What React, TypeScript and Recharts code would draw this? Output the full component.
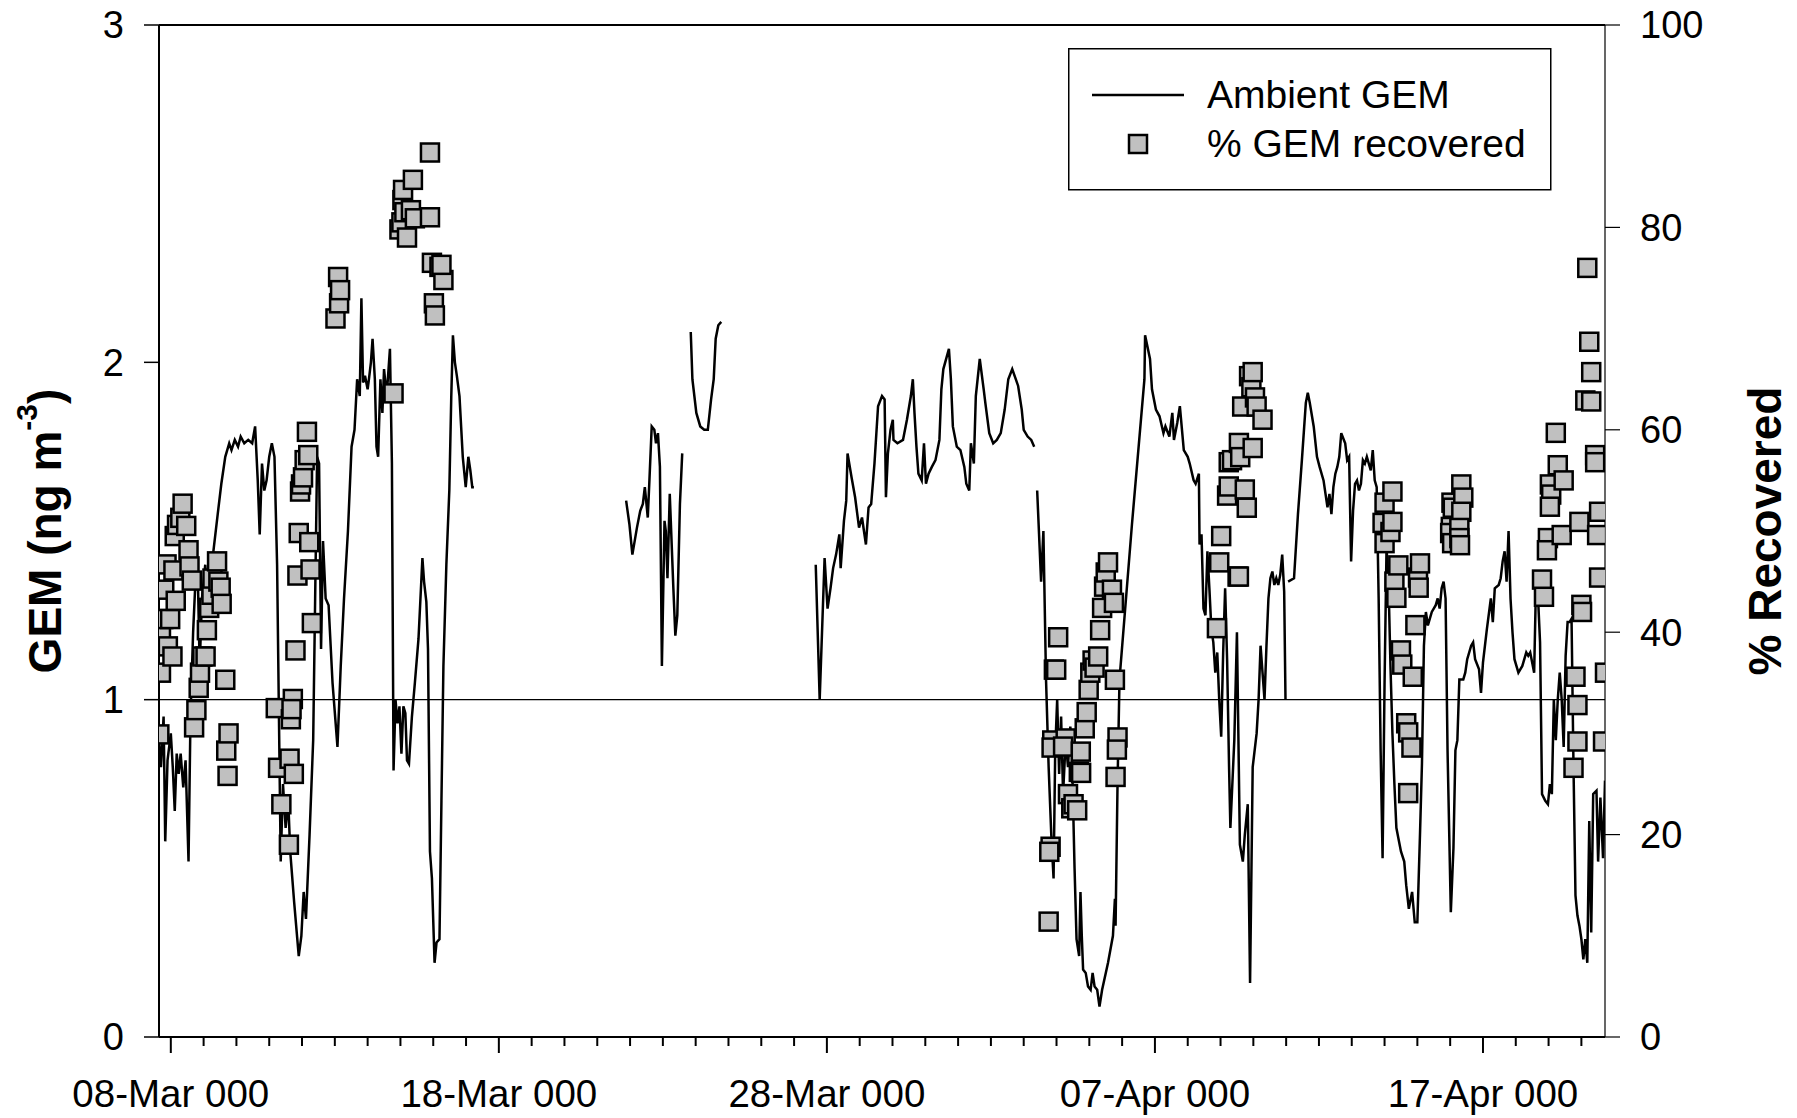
import React from 'react';
import {
  ComposedChart,
  Line,
  Scatter,
  XAxis,
  YAxis,
  ReferenceLine,
  Legend,
  Label,
} from 'recharts';

const FONT = '"Liberation Sans", Arial, Helvetica, sans-serif';

// Ambient GEM (ng m-3); time = days since 08-Mar 00:00; null marks a gap in the record
const gemDays: number[] = [
  -0.36, -0.3, -0.22, -0.17, -0.1, 0.0, 0.06, 0.12, 0.18, 0.24, 0.3, 0.38, 0.45, 0.54, 0.6, 0.68, 0.75, 0.82, 0.88, 0.95,
  1.05, 1.13, 1.25, 1.31, 1.43, 1.54, 1.66, 1.78, 1.85, 1.95, 2.05, 2.13, 2.24, 2.36, 2.48, 2.57, 2.65, 2.71, 2.78, 2.85,
  2.92, 3.0, 3.08, 3.16, 3.24, 3.35, 3.42, 3.5, 3.58, 3.64, 3.76, 3.9, 3.98, 4.05, 4.12, 4.23, 4.34, 4.4, 4.46, 4.52,
  4.58, 4.64, 4.72, 4.81, 4.93, 5.08, 5.18, 5.28, 5.4, 5.51, 5.6, 5.68, 5.76, 5.81, 5.86, 5.92, 6.0, 6.04, 6.1, 6.15,
  6.22, 6.27, 6.32, 6.39, 6.45, 6.5, 6.58, 6.68, 6.74, 6.79, 6.85, 6.91, 6.97, 7.03, 7.09, 7.15, 7.2, 7.26, 7.35, 7.44,
  7.55, 7.61, 7.67, 7.72, 7.79, 7.84, 7.9, 7.96, 8.04, 8.1, 8.19, 8.25, 8.31, 8.4, 8.49, 8.55, 8.6, 8.66, 8.72, 8.8,
  8.9, 8.99, 9.07, 9.13, 9.19, 9.24, 11.0,
  13.88, 13.98, 14.07, 14.21, 14.31, 14.39, 14.45, 14.54, 14.59, 14.66, 14.74, 14.79, 14.85, 14.91, 14.97, 15.05, 15.09,
  15.14, 15.21, 15.32, 15.38, 15.44, 15.52, 15.59, 15.7,
  15.85, 15.9, 16.02, 16.14, 16.26, 16.37, 16.47, 16.55, 16.61, 16.69, 16.78, 18.0,
  19.66, 19.78, 19.93, 20.02, 20.11, 20.19, 20.28, 20.38, 20.42, 20.52, 20.59, 20.63, 20.75, 20.86, 20.98, 21.07, 21.19,
  21.27, 21.35, 21.45, 21.56, 21.68, 21.76, 21.8, 21.86, 21.94, 22.01, 22.03, 22.15, 22.32, 22.44, 22.56, 22.62, 22.67,
  22.73, 22.79, 22.89, 22.96, 23.02, 23.1, 23.2, 23.31, 23.43, 23.49, 23.55, 23.72, 23.78, 23.84, 23.96, 24.07, 24.19,
  24.25, 24.34, 24.39, 24.48, 24.54, 24.66, 24.78, 24.83, 24.95, 25.07, 25.18, 25.3, 25.42, 25.53, 25.65, 25.83, 25.94,
  26.0, 26.12, 26.23, 26.32, 26.36,
  26.41, 26.53, 26.6, 26.68, 26.76, 26.84, 26.91, 26.96, 27.02, 27.08, 27.14, 27.2, 27.28, 27.35, 27.42, 27.46, 27.55,
  27.61, 27.69, 27.73, 27.77, 27.81, 27.89, 27.96, 28.04, 28.1, 28.16, 28.24, 28.31, 28.39, 28.57, 28.72, 28.78, 28.8,
  28.86, 28.92, 29.3, 29.68, 29.7, 29.85, 29.91, 30.03, 30.14, 30.26, 30.32, 30.44, 30.53, 30.58, 30.68, 30.76, 30.88,
  31.0, 31.06, 31.18, 31.24, 31.34, 31.36, 31.42, 31.48, 31.54, 31.6, 31.66, 31.72, 31.78, 31.84, 31.9, 31.96, 32.02,
  32.08, 32.14, 32.2, 32.26, 32.3, 32.42, 32.5, 32.59, 32.68, 32.74, 32.83, 32.9, 32.98, 33.1, 33.16, 33.22, 33.28,
  33.34, 33.4, 33.46, 33.52, 33.58, 33.64, 33.7, 33.76, 33.82, 33.88, 33.94, 33.98, 34.02,
  34.06, 34.24, 34.36, 34.48, 34.6, 34.66, 34.72, 34.84, 34.94, 35.02, 35.14, 35.2, 35.26, 35.32, 35.38, 35.44, 35.5,
  35.56, 35.62, 35.68, 35.8, 35.86, 35.92, 35.98, 36.04, 36.1, 36.16, 36.22, 36.28, 36.34, 36.4, 36.46, 36.52, 36.58,
  36.64, 36.7, 36.76, 36.82, 36.88, 36.94, 37.0, 37.06, 37.12, 37.18, 37.24, 37.3, 37.36, 37.42, 37.5, 37.6, 37.66,
  37.74, 37.84, 37.92, 38.0, 38.08, 38.14, 38.2, 38.26, 38.32, 38.44, 38.56, 38.62, 38.68, 38.74, 38.8, 38.86, 38.92,
  39.02, 39.1, 39.16, 39.22, 39.28, 39.4, 39.46, 39.52, 39.64, 39.7, 39.76, 39.88, 39.94, 40.0, 40.12, 40.24, 40.3,
  40.36, 40.48, 40.54, 40.6, 40.66, 40.72, 40.78, 40.84, 40.9, 40.96, 41.08, 41.2, 41.32, 41.38, 41.44, 41.5, 41.56,
  41.62, 41.68, 41.74, 41.8, 41.9, 41.98, 42.04, 42.1, 42.16, 42.22, 42.28, 42.34, 42.4, 42.46, 42.52, 42.58, 42.64,
  42.7, 42.76, 42.82, 42.88, 42.94, 43.0, 43.06, 43.12, 43.18, 43.24, 43.3, 43.36, 43.46, 43.51, 43.58, 43.66, 43.72,
];

const gemValues: (number | null)[] = [
  0.88, 0.8, 0.95, 0.58, 0.82, 0.9, 0.8, 0.67, 0.84, 0.78, 0.84, 0.74, 0.82, 0.52, 0.95, 1.2, 1.35, 1.38, 1.1, 1.3,
  1.4, 1.3, 1.4, 1.45, 1.55, 1.64, 1.72, 1.76, 1.74, 1.77, 1.75, 1.78, 1.76, 1.77, 1.76, 1.81, 1.65, 1.49, 1.7, 1.62,
  1.65, 1.72, 1.76, 1.72, 1.4, 0.52, 0.75, 0.62, 0.7, 0.55, 0.4, 0.24, 0.3, 0.43, 0.35, 0.6, 0.88, 1.3, 1.72, 1.7,
  1.15, 1.47, 1.3, 1.28, 1.05, 0.86, 1.1, 1.3, 1.5, 1.75, 1.8, 1.95, 1.9, 2.19, 1.94, 1.96, 1.92, 1.95, 2.0, 2.07,
  1.95, 1.75, 1.72, 1.95, 1.85, 1.98, 1.9, 2.04, 1.7, 0.79, 1.0, 0.93, 0.98, 0.84, 0.98, 0.96, 0.82, 0.81, 0.95, 1.05,
  1.18, 1.3, 1.42, 1.35, 1.29, 1.15, 0.55, 0.47, 0.22, 0.28, 0.29, 0.7, 1.1, 1.4, 1.62, 1.9, 2.08, 2.0, 1.96, 1.9,
  1.72, 1.63, 1.72, 1.68, 1.63, 1.63, null,
  1.59, 1.52, 1.43, 1.51, 1.56, 1.58, 1.63, 1.54, 1.65, 1.81, 1.8, 1.76, 1.79, 1.69, 1.1, 1.53, 1.5,
  1.36, 1.61, 1.33, 1.19, 1.25, 1.58, 1.73, null,
  2.09, 1.95, 1.85, 1.81, 1.8, 1.8, 1.89, 1.95, 2.07, 2.11, 2.12, null,
  1.4, 1.0, 1.42, 1.27, 1.33, 1.39, 1.43, 1.49, 1.39, 1.53, 1.59, 1.73, 1.66, 1.6, 1.51, 1.54, 1.46,
  1.57, 1.58, 1.7, 1.87, 1.9, 1.89, 1.6, 1.73, 1.8, 1.83, 1.77, 1.76, 1.77, 1.83, 1.9, 1.95, 1.85,
  1.75, 1.67, 1.65, 1.76, 1.64, 1.67, 1.69, 1.71, 1.77, 1.92, 1.98, 2.04, 1.95, 1.81, 1.75, 1.74, 1.69,
  1.64, 1.62, 1.76, 1.7, 1.9, 2.01, 1.92, 1.88, 1.79, 1.76, 1.77, 1.79, 1.86, 1.95, 1.98, 1.93, 1.86,
  1.8, 1.78, 1.77, 1.75, null,
  1.62, 1.35, 1.5, 1.06, 0.8, 0.6, 0.47, 0.85, 1.0, 0.78, 0.95, 0.72, 0.88, 0.8, 0.92, 0.88, 0.5,
  0.29, 0.24, 0.43, 0.3, 0.2, 0.19, 0.15, 0.14, 0.19, 0.15, 0.14, 0.09, 0.14, 0.22, 0.3, 0.41, 0.33,
  0.75, 1.06, 1.52, 1.95, 2.08, 2.01, 1.92, 1.86, 1.84, 1.79, 1.81, 1.78, 1.85, 1.77, 1.82, 1.87, 1.74,
  1.72, 1.7, 1.65, 1.64, 1.67, 1.46, 1.49, 1.27, 1.25, 1.44, 1.33, 1.21, 1.17, 1.08, 1.14, 1.0, 0.89,
  1.14, 1.33, 1.12, 0.8, 0.62, 0.88, 1.2, 0.57, 0.52, 0.6, 0.69, 0.16, 0.8, 0.9, 1.0, 1.16, 1.08,
  1.0, 1.16, 1.3, 1.36, 1.38, 1.34, 1.36, 1.34, 1.37, 1.43, 1.32, 1.0, null,
  1.35, 1.36, 1.55, 1.71, 1.88, 1.91, 1.88, 1.81, 1.72, 1.69, 1.65, 1.61, 1.57, 1.61, 1.55, 1.63, 1.67,
  1.69, 1.72, 1.79, 1.76, 1.71, 1.72, 1.41, 1.56, 1.64, 1.65, 1.62, 1.64, 1.71, 1.7, 1.72, 1.7, 1.68,
  1.74, 1.65, 1.63, 1.3, 0.85, 0.53, 1.05, 1.45, 1.35, 1.1, 0.9, 0.75, 0.62, 0.59, 0.55, 0.52, 0.45,
  0.38, 0.43, 0.34, 0.34, 0.6, 0.81, 1.16, 1.26, 1.22, 1.26, 1.28, 1.3, 1.27, 1.33, 1.35, 1.3, 0.85,
  0.37, 0.56, 0.85, 0.88, 1.06, 1.06, 1.08, 1.12, 1.16, 1.17, 1.12, 1.09, 1.02, 1.11, 1.21, 1.3, 1.23,
  1.33, 1.34, 1.36, 1.41, 1.44, 1.35, 1.5, 1.3, 1.2, 1.12, 1.08, 1.1, 1.14, 1.13, 1.14, 1.11, 1.08,
  1.36, 1.3, 1.17, 0.72, 0.7, 0.69, 0.75, 0.72, 1.0, 0.88, 1.0, 1.08, 1.0, 0.86, 1.13, 1.23, 1.23,
  1.24, 0.8, 0.42, 0.36, 0.33, 0.29, 0.23, 0.29, 0.22, 0.64, 0.31, 0.72, 0.73, 0.52, 0.71, 0.53, 0.76,
];

// % GEM recovered (right axis); time = days since 08-Mar 00:00
const recDays: number[] = [
  -0.35, -0.3, -0.3, -0.23, -0.2, -0.13, -0.09, -0.02, 0.05, 0.08, 0.12, 0.15, 0.19, 0.29, 0.36, 0.47, 0.54, 0.57, 0.64,
  0.71, 0.78, 0.85, 0.89, 0.96, 1.06, 1.1, 1.17, 1.24, 1.27, 1.41, 1.45, 1.52, 1.55, 1.66, 1.69, 1.76, 1.73,
  3.2, 3.27, 3.37, 3.6, 3.62, 3.66, 3.72, 3.75, 3.8, 3.86, 3.9, 3.94, 3.97, 4.03, 4.08, 4.15, 4.19, 4.22, 4.26, 4.3, 3.68,
  5.02, 5.1, 5.13, 5.16,
  6.79, 6.97, 7.03, 7.06, 7.08, 7.12, 7.2, 7.32, 7.38, 7.44, 7.9, 7.9, 7.96, 8.02, 8.05, 8.19, 8.31, 8.25,
  26.76, 26.82, 26.78, 26.87, 26.85, 26.92, 26.99, 27.05, 27.28, 27.2, 27.35, 27.45, 27.52, 27.63, 27.68, 27.74, 27.75,
  27.86, 27.92, 27.98, 28.03, 28.1, 28.16, 28.27, 28.33, 28.39, 28.45, 28.5, 28.57, 28.69, 28.75, 28.78, 28.8, 28.86, 28.84,
  31.89, 31.96, 32.02, 32.2, 32.25, 32.25, 32.35, 32.52, 32.56, 32.6, 32.56, 32.66, 32.74, 32.8, 32.87, 32.94, 32.98,
  32.98, 33.05, 33.1, 33.28,
  36.94, 37.0, 37.0, 37.18, 37.24, 37.24, 37.3, 37.36, 37.42, 37.5, 37.54, 37.66, 37.72, 37.72, 37.82, 37.86, 37.94,
  38.02, 38.04, 38.08,
  39.04, 39.08, 39.02, 39.0, 39.06, 39.34, 39.4, 39.34, 39.28, 39.28, 39.3,
  41.8, 41.86, 41.98, 41.95, 42.04, 42.08, 42.04, 42.22, 42.28, 42.4, 42.46, 42.76, 42.82, 42.88, 42.88, 42.94, 43.0,
  43.02, 43.12, 43.18, 43.24, 43.3, 43.3, 43.42, 43.42, 43.48, 43.54, 43.54, 43.66, 43.72,
];

const recPct: number[] = [
  29.9, 36.0, 39.6, 41.3, 44.2, 46.7, 38.6, 41.3, 37.6, 46.1, 49.5, 43.1, 50.6, 51.3, 52.7, 50.5, 48.1, 46.5, 45.1,
  30.6, 32.3, 34.5, 36.0, 37.6, 37.6, 40.2, 42.4, 43.7, 45.3, 47.0, 45.0, 44.4, 42.8, 35.3, 28.3, 30.0, 25.8,
  32.5, 26.6, 23.0, 19.0, 27.5, 31.4, 33.4, 26.0, 38.2, 45.6, 49.8, 53.9, 54.6, 55.3, 57.0, 59.8, 57.5, 48.9, 46.2, 40.9, 32.4,
  71.0, 75.1, 72.5, 73.8,
  63.6, 79.8, 80.5, 82.7, 83.7, 81.5, 79.0, 81.7, 84.7, 80.9, 87.4, 81.0, 76.5, 72.5, 71.3, 76.1, 74.8, 76.3,
  11.4, 18.8, 18.3, 29.3, 28.6, 36.3, 36.3, 39.5, 29.5, 28.7, 24.0, 22.6, 23.0, 22.4, 26.2, 28.2, 26.1,
  30.5, 32.1, 34.3, 36.0, 37.2, 36.5, 37.6, 40.2, 42.4, 44.5, 45.9, 46.9, 44.2, 42.9, 35.3, 25.7, 29.6, 28.4,
  40.4, 46.9, 49.5, 53.5, 56.8, 54.4, 57.0, 45.5, 58.7, 57.3, 45.5, 62.3, 54.1, 52.3, 65.3, 64.2, 65.7,
  58.2, 63.2, 62.3, 61.0,
  50.8, 52.8, 48.8, 49.9, 53.9, 50.9, 45.0, 43.4, 46.6, 38.2, 36.8, 31.0, 30.1, 24.1, 28.6, 35.6, 40.7,
  45.4, 44.4, 46.8,
  52.8, 52.3, 50.4, 49.8, 48.8, 54.6, 53.3, 51.9, 50.3, 49.3, 48.6,
  45.2, 43.5, 49.3, 48.1, 54.6, 53.6, 52.4, 59.7, 56.5, 49.6, 55.0, 26.6, 35.6, 32.8, 29.2, 50.9, 42.7,
  42.0, 62.9, 76.0, 68.7, 65.7, 62.8, 57.5, 56.8, 49.6, 51.9, 45.4, 29.2, 36.0,
];

const xDayTicks: number[] = [
  0, 1, 2, 3, 4, 5, 6, 7, 8, 9, 10, 11, 12, 13, 14, 15, 16, 17, 18, 19, 20, 21,
  22, 23, 24, 25, 26, 27, 28, 29, 30, 31, 32, 33, 34, 35, 36, 37, 38, 39, 40, 41, 42, 43,
];
const xLabelDays: number[] = [0, 10, 20, 30, 40];
const xLabels: string[] = ['08-Mar 000', '18-Mar 000', '28-Mar 000', '07-Apr 000', '17-Apr 000'];
const leftTicks: number[] = [0, 1, 2, 3];
const rightTicks: number[] = [0, 20, 40, 60, 80, 100];

const gemData = gemDays.map((d, i) => ({ d, g: gemValues[i] }));
const recData = recDays.map((d, i) => ({ d, p: recPct[i] }));

const XTick = (props: any) => {
  const { x, y, payload } = props;
  const v = payload.value;
  const idx = xLabelDays.indexOf(v);
  const major = idx >= 0;
  return (
    <g>
      <line x1={x} x2={x} y1={y} y2={y + (major ? 16 : 9)} stroke="#000" strokeWidth={2} />
      {major && (
        <text x={x} y={y + 70} textAnchor="middle" fontSize={38.5} fontFamily={FONT} fill="#000">
          {xLabels[idx]}
        </text>
      )}
    </g>
  );
};

const SquareShape = (props: any) => {
  const { cx, cy } = props;
  if (cx == null || cy == null) return null;
  return <rect x={cx - 9} y={cy - 9} width={18} height={18} fill="#c0c0c0" stroke="#000" strokeWidth={2.5} />;
};

const LeftTitle = (props: any) => {
  const vb = props.viewBox || { x: 0, y: 25, width: 159, height: 1012 };
  const bx = vb.x + 61;
  const cy = vb.y + vb.height / 2;
  return (
    <text
      x={bx}
      y={cy}
      transform={`rotate(-90, ${bx}, ${cy})`}
      textAnchor="middle"
      fontSize={46}
      fontWeight="bold"
      fontFamily={FONT}
      fill="#000"
    >
      GEM (ng m<tspan dy={-24} fontSize={30}>-3</tspan>
      <tspan dy={24}>)</tspan>
    </text>
  );
};

const RightTitle = (props: any) => {
  const vb = props.viewBox || { x: 1605, y: 25, width: 192, height: 1012 };
  const bx = vb.x + 176;
  const cy = vb.y + vb.height / 2;
  return (
    <text
      x={bx}
      y={cy}
      transform={`rotate(-90, ${bx}, ${cy})`}
      textAnchor="middle"
      fontSize={46}
      fontWeight="bold"
      fontFamily={FONT}
      fill="#000"
    >
      % Recovered
    </text>
  );
};

const LegendBox = () => (
  <svg width={484} height={143} style={{ display: 'block' }}>
    <rect x={0.75} y={0.75} width={482} height={141} fill="#fff" stroke="#000" strokeWidth={1.5} />
    <line x1={24} x2={116} y1={47} y2={47} stroke="#000" strokeWidth={2.5} />
    <rect x={61} y={87} width={18} height={18} fill="#c0c0c0" stroke="#000" strokeWidth={2.5} />
    <text x={139} y={60} fontSize={39} fontFamily={FONT} fill="#000">
      Ambient GEM
    </text>
    <text x={139} y={109} fontSize={39} fontFamily={FONT} fill="#000">
      % GEM recovered
    </text>
  </svg>
);

export default function App() {
  return (
    <div style={{ position: 'absolute', left: 0, top: 0, width: 1797, height: 1118, background: '#fff' }}>
      <ComposedChart width={1797} height={1118} margin={{ top: 25, right: 0, bottom: 0, left: 0 }}>
        <XAxis
          type="number"
          dataKey="d"
          domain={[-0.36, 43.72]}
          allowDataOverflow
          ticks={xDayTicks}
          interval={0}
          tickSize={0}
          tickMargin={0}
          tickLine={false}
          axisLine={{ stroke: '#000', strokeWidth: 2 }}
          height={81}
          tick={<XTick />}
        />
        <YAxis
          yAxisId="left"
          orientation="left"
          domain={[0, 3]}
          allowDataOverflow
          ticks={leftTicks}
          interval={0}
          width={159}
          tickSize={15}
          tickMargin={20}
          axisLine={{ stroke: '#000', strokeWidth: 2 }}
          tickLine={{ stroke: '#000', strokeWidth: 1.5 }}
          tick={{ fontSize: 38, fill: '#000', fontFamily: FONT }}
        >
          <Label content={LeftTitle} />
        </YAxis>
        <YAxis
          yAxisId="right"
          orientation="right"
          domain={[0, 100]}
          allowDataOverflow
          ticks={rightTicks}
          interval={0}
          width={192}
          tickSize={15}
          tickMargin={20}
          axisLine={{ stroke: '#000', strokeWidth: 1.2 }}
          tickLine={{ stroke: '#000', strokeWidth: 1.2 }}
          tick={{ fontSize: 38, fill: '#000', fontFamily: FONT }}
        >
          <Label content={RightTitle} />
        </YAxis>
        <ReferenceLine yAxisId="left" y={1} stroke="#000" strokeWidth={1.2} />
        <ReferenceLine yAxisId="left" y={3} stroke="#000" strokeWidth={2} />
        <Line
          yAxisId="left"
          data={gemData}
          dataKey="g"
          type="linear"
          stroke="#000"
          strokeWidth={2.5}
          dot={false}
          activeDot={false}
          connectNulls={false}
          isAnimationActive={false}
          name="Ambient GEM"
        />
        <Scatter
          yAxisId="right"
          data={recData}
          dataKey="p"
          shape={<SquareShape />}
          isAnimationActive={false}
          name="% GEM recovered"
        />
        <Legend
          layout="horizontal"
          verticalAlign="middle"
          align="center"
          wrapperStyle={{ position: 'absolute', left: 1068, top: 48, width: 484, height: 143, margin: 0, padding: 0 }}
          content={() => <LegendBox />}
        />
      </ComposedChart>
    </div>
  );
}
